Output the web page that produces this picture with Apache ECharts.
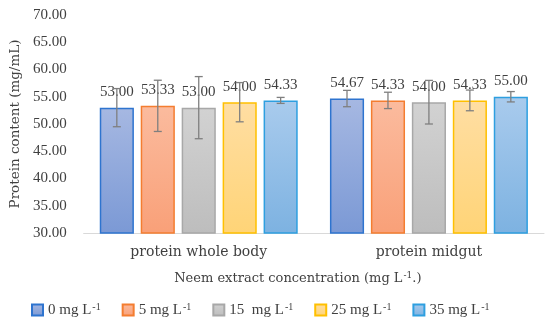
<!DOCTYPE html>
<html><head><meta charset="utf-8">
<script src="https://cdn.jsdelivr.net/npm/echarts@6/dist/echarts.min.js"></script>
<style>html,body{margin:0;padding:0;background:#fff}#c{width:550px;height:321px}</style>
</head><body><div id="c"></div>
<script>
const categories = ['protein whole body', 'protein midgut'];
const seriesNames = ['0 mg L', '5 mg L', '15  mg L', '25 mg L', '35 mg L'];
const values = [
  [53.00, 54.67],
  [53.33, 54.33],
  [53.00, 54.00],
  [54.00, 54.33],
  [54.33, 55.00]
];
const errors = [
  [3.5, 1.5],
  [4.7, 1.5],
  [5.7, 4.0],
  [3.6, 1.9],
  [0.55, 0.95]
];
const yTicks = [30, 35, 40, 45, 50, 55, 60, 65, 70];

const fills = [['#a6b8e2', '#7b99d5'], ['#fbbb9e', '#f9a078'], ['#d2d2d2', '#bdbdbd'], ['#ffdea3', '#ffd477'], ['#a9cbed', '#7db2e1']];
const borders = ['#2e74cf', '#f47d30', '#a8a8a8', '#ffc000', '#2e9fe0'];
const NUMFONT = '"Liberation Serif", "DejaVu Serif", serif';
const TXTFONT = '"DejaVu Serif", "Liberation Serif", serif';
const CAT_GAP = 0.14, BAR_GAP = 0.2, N = values.length;

const series = [];
values.forEach((vals, i) => {
  series.push({
    type: 'bar', name: seriesNames[i], data: vals,
    barCategoryGap: (CAT_GAP * 100) + '%', barGap: (BAR_GAP * 100) + '%',
    itemStyle: {
      color: new echarts.graphic.LinearGradient(0, 0, 0, 1, [{offset: 0, color: fills[i][0]}, {offset: 1, color: fills[i][1]}]),
      borderColor: borders[i], borderWidth: 1.5
    },
    label: {show: true, position: 'top', distance: 8, formatter: p => p.value.toFixed(2),
      fontFamily: NUMFONT, fontSize: 15, color: '#404040'}
  });
});
values.forEach((vals, i) => {
  series.push({
    type: 'custom', name: 'err' + i, z: 10,
    data: vals.map((v, j) => [j, v, errors[i][j]]),
    renderItem: (params, api) => {
      const band = api.size([1, 0])[0];
      const w = band * (1 - CAT_GAP) / (N + (N - 1) * BAR_GAP);
      const x0 = api.coord([api.value(0), 0])[0] - band * (1 - CAT_GAP) / 2;
      const cx = x0 + i * w * (1 + BAR_GAP) + w / 2;
      const v = api.value(1), e = api.value(2);
      const yt = api.coord([0, v + e])[1], yb = api.coord([0, v - e])[1];
      const st = {stroke: '#7f7f7f', lineWidth: 1.3};
      return {type: 'group', children: [
        {type: 'line', shape: {x1: cx, y1: yt, x2: cx, y2: yb}, style: st},
        {type: 'line', shape: {x1: cx - 4, y1: yt, x2: cx + 4, y2: yt}, style: st},
        {type: 'line', shape: {x1: cx - 4, y1: yb, x2: cx + 4, y2: yb}, style: st}
      ]};
    }
  });
});

const richL = {sup: {fontSize: 10, verticalAlign: 'top', padding: [0, 0, 6, 1], fontFamily: NUMFONT, color: '#404040'}};
const richT = {sup: {fontSize: 9, verticalAlign: 'top', padding: [0, 0, 6, 1], fontFamily: TXTFONT, color: '#404040'}};
const chart = echarts.init(document.getElementById('c'));
chart.setOption({
  animation: false,
  grid: {left: 82, right: 6, top: 15, bottom: 88},
  legend: {
    data: seriesNames, top: 297, left: 26, width: 524, itemWidth: 11, itemHeight: 11, itemGap: 21,
    icon: 'rect',
    formatter: n => n + '{sup|-1}',
    textStyle: {fontFamily: NUMFONT, fontSize: 15, color: '#404040', rich: richL}
  },
  xAxis: {
    type: 'category', data: categories,
    axisLine: {lineStyle: {color: '#d9d9d9', width: 1}}, axisTick: {show: false},
    axisLabel: {fontFamily: TXTFONT, fontSize: 14, color: '#404040', margin: 12},
    name: 'Neem extract concentration (mg L{sup|-1}.)', nameLocation: 'middle', nameGap: 38,
    nameTextStyle: {fontFamily: TXTFONT, fontSize: 13, color: '#404040', rich: richT, padding: [0, 32, 0, 0]}
  },
  yAxis: {
    type: 'value', min: yTicks[0], max: yTicks[yTicks.length - 1], interval: 5,
    splitLine: {show: false}, axisLine: {show: false}, axisTick: {show: false},
    axisLabel: {fontFamily: NUMFONT, fontSize: 15, color: '#404040', formatter: v => v.toFixed(2), margin: 17},
    name: 'Protein content (mg/mL)', nameLocation: 'middle', nameGap: 61,
    nameTextStyle: {fontFamily: TXTFONT, fontSize: 13.5, color: '#404040'}
  },
  series
});
</script></body></html>
